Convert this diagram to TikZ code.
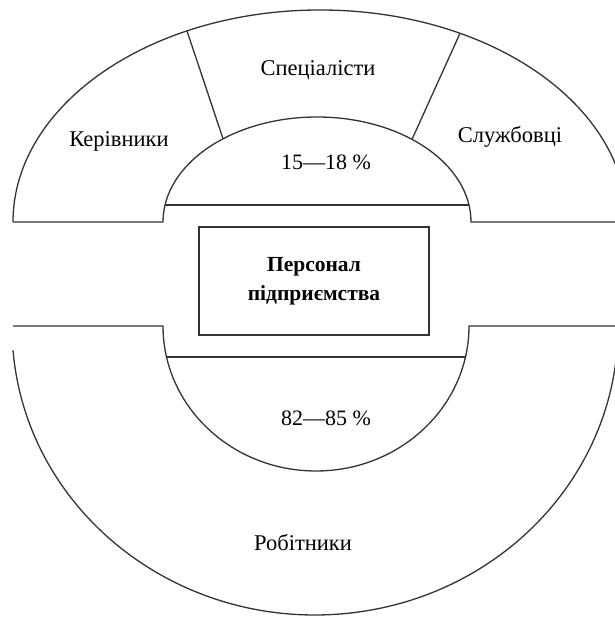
\documentclass[tikz,border=0pt]{standalone}
\usepackage{fontspec}
\setmainfont{Liberation Serif}
\usetikzlibrary{calc}
\tikzset{
  outline/.style={draw=black!80, line width=1.3pt},
  lbl/.style={font=\fontsize{22.5}{26}\selectfont, inner sep=0pt},
  pct/.style={font=\fontsize{22}{26}\selectfont, inner sep=0pt},
  centerbox/.style={draw=black!80, line width=1.3pt, minimum width=230pt, minimum height=108pt,
    align=center, font=\fontsize{21.5}{29}\selectfont\bfseries}
}
\begin{document}
\begin{tikzpicture}[x=1pt,y=1pt]
\useasboundingbox (0,0) rectangle (615,618);
\clip (0,0) rectangle (615,618);
\fill[white] (0,0) rectangle (615,618);
\coordinate (OT) at (320,396);
\coordinate (IT) at (317,396);
\coordinate (IB) at (316,292);
\coordinate (OB) at (315,291);
% upper half
\draw[outline] ($(OT)+(180:307 and 212)$) arc[start angle=180,end angle=0,x radius=307,y radius=212];
\draw[outline] (13,396) -- (163,396) arc[start angle=180,end angle=0,x radius=154,y radius=105] -- (615,396);
\draw[outline] ($(IT)+(9.32:154 and 105)$) -- ($(IT)+(170.68:154 and 105)$);
\draw[outline] ($(OT)+(115.67:307 and 212)$) -- ($(IT)+(127.6:154 and 105)$);
\draw[outline] ($(OT)+(62.87:307 and 212)$) -- ($(IT)+(51.9:154 and 105)$);
% lower half
\draw[outline] (13,292) -- (163,292) arc[start angle=180,end angle=360,x radius=153,y radius=145] -- (615,292);
\draw[outline] ($(IB)+(192.35:153 and 145)$) -- ($(IB)+(-12.35:153 and 145)$);
\draw[outline] ($(OB)+(184.66:303 and 288)$) arc[start angle=184.66,end angle=360,x radius=303,y radius=288];
% centre
\node[centerbox] (box) at (314,337) {Персонал\\підприємства};
% labels
\node[lbl] (spec) at (318,548) {Спеціалісти};
\node[lbl] (ker) at (119,477) {Керівники};
\node[lbl] (sluzh) at (510,481) {Службовці};
\node[pct] (top) at (326,456) {15—18 \%};
\node[pct] (bot) at (326,200) {82—85 \%};
\node[lbl] (rob) at (303,75) {Робітники};
\end{tikzpicture}
\end{document}
